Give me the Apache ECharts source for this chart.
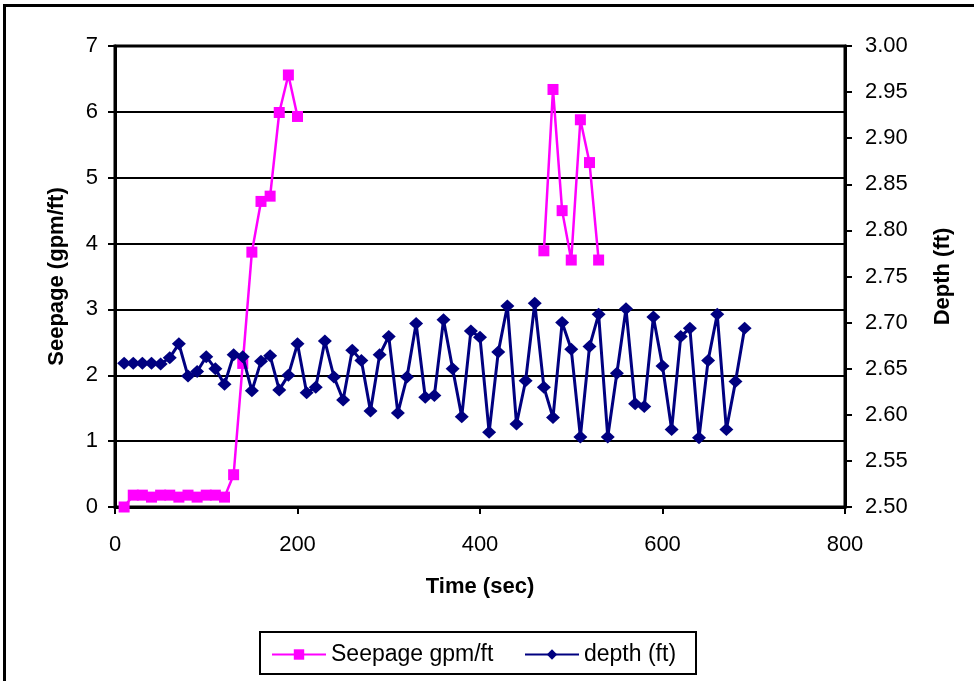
<!DOCTYPE html>
<html>
<head>
<meta charset="utf-8">
<script src="https://cdn.jsdelivr.net/npm/echarts@6/dist/echarts.min.js"></script>
<style>
html,body{margin:0;padding:0;background:#fff;}
#chart{width:974px;height:681px;}
</style>
</head>
<body>
<div id="chart"></div>
<script>
// ---- data ----
var times = [10,20,30,40,50,60,70,80,90,100,110,120,130,140,150,160,170,180,190,200,
  210,220,230,240,250,260,270,280,290,300,310,320,330,340,350,360,370,380,390,400,
  410,420,430,440,450,460,470,480,490,500,510,520,530,540,550,560,570,580,590,600,
  610,620,630,640,650,660,670,680,690];
var seepage = [0,0.18,0.18,0.15,0.18,0.18,0.15,0.18,0.15,0.18,0.18,0.15,0.49,2.18,3.87,4.64,4.72,5.99,6.56,5.93,
  null,null,null,null,null,null,null,null,null,null,null,null,null,null,null,null,null,null,null,null,
  null,null,null,null,null,null,3.89,6.34,4.50,3.75,5.88,5.23,3.75,null,null,null,null,null,null,null,
  null,null,null,null,null,null,null,null,null];
var depth = [2.656,2.656,2.656,2.656,2.655,2.662,2.677,2.642,2.647,2.663,2.650,2.633,2.665,2.663,2.626,2.658,2.664,2.627,2.643,2.677,
  2.624,2.630,2.680,2.641,2.616,2.670,2.659,2.604,2.665,2.685,2.602,2.641,2.699,2.619,2.621,2.703,2.650,2.598,2.691,2.684,
  2.581,2.668,2.718,2.590,2.637,2.721,2.630,2.597,2.700,2.671,2.576,2.674,2.709,2.576,2.645,2.715,2.612,2.609,2.706,2.653,
  2.584,2.685,2.694,2.575,2.659,2.709,2.584,2.636,2.694];
var xTicks = [0,200,400,600,800];
var seepTicks = [0,1,2,3,4,5,6,7];
var depthTicks = ['2.50','2.55','2.60','2.65','2.70','2.75','2.80','2.85','2.90','2.95','3.00'];
var seriesNames = ['Seepage gpm/ft','depth (ft)'];

// ---- build ----
function pairs(xs, ys){
  var out = [];
  for (var i = 0; i < xs.length; i++) out.push([xs[i], ys[i] === null ? '-' : ys[i]]);
  return out;
}
var FONT = 'Liberation Sans';
var chart = echarts.init(document.getElementById('chart'), null, {renderer:'canvas'});
var dMin = parseFloat(depthTicks[0]), dMax = parseFloat(depthTicks[depthTicks.length-1]);
var option = {
  animation:false,
  backgroundColor:'#fff',
  textStyle:{fontFamily:FONT,color:'#000'},
  grid:{left:115,right:129,top:46,bottom:174,show:true,borderColor:'#000',borderWidth:3,backgroundColor:'transparent'},
  legend:[
    {data:[seriesNames[0]],left:271,top:643,padding:0,itemWidth:54,itemHeight:13,itemGap:0,
     textStyle:{fontFamily:FONT,fontSize:23,color:'#000'}},
    {data:[seriesNames[1]],left:524,top:643,padding:0,itemWidth:54,itemHeight:13,itemGap:0,
     textStyle:{fontFamily:FONT,fontSize:23,color:'#000'}}
  ],
  graphic:[
    {type:'rect',shape:{x:4.5,y:5.5,width:1000,height:700},style:{fill:'none',stroke:'#000',lineWidth:3},silent:true},
    {type:'rect',shape:{x:260,y:632,width:436,height:42},style:{fill:'none',stroke:'#000',lineWidth:2},silent:true}
  ],
  xAxis:{
    type:'value',min:xTicks[0],max:xTicks[xTicks.length-1],interval:xTicks[1]-xTicks[0],
    name:'Time (sec)',nameLocation:'middle',nameGap:69,
    nameTextStyle:{fontFamily:FONT,fontSize:22,fontWeight:'bold',color:'#000'},
    axisLine:{lineStyle:{color:'#000',width:3}},
    axisTick:{show:true,length:7,lineStyle:{color:'#000',width:2}},
    axisLabel:{fontFamily:FONT,fontSize:22,color:'#000',margin:27},
    splitLine:{show:false}
  },
  yAxis:[
    {type:'value',min:seepTicks[0],max:seepTicks[seepTicks.length-1],interval:seepTicks[1]-seepTicks[0],
     name:'Seepage (gpm/ft)',nameLocation:'middle',nameGap:47,nameRotate:90,
     nameTextStyle:{fontFamily:FONT,fontSize:22,fontWeight:'bold',color:'#000'},
     axisLine:{show:true,lineStyle:{color:'#000',width:3}},
     axisTick:{show:true,length:7,lineStyle:{color:'#000',width:2}},
     axisLabel:{fontFamily:FONT,fontSize:22,color:'#000',margin:17},
     splitLine:{show:true,lineStyle:{color:'#000',width:2}}
    },
    {type:'value',position:'right',min:dMin,max:dMax,interval:0.05,
     name:'Depth (ft)',nameLocation:'middle',nameGap:87,nameRotate:90,
     nameTextStyle:{fontFamily:FONT,fontSize:22,fontWeight:'bold',color:'#000'},
     axisLine:{show:true,lineStyle:{color:'#000',width:3}},
     axisTick:{show:true,length:7,lineStyle:{color:'#000',width:2}},
     axisLabel:{fontFamily:FONT,fontSize:22,color:'#000',margin:20,
       formatter:function(v){var i=Math.round((v-dMin)/0.05);return depthTicks[i]!==undefined?depthTicks[i]:v.toFixed(2);}},
     splitLine:{show:false}
    }
  ],
  series:[
    {name:seriesNames[0],type:'line',yAxisIndex:0,data:pairs(times,seepage),connectNulls:false,
     symbol:'rect',symbolSize:11,itemStyle:{color:'#FF00FF'},lineStyle:{color:'#FF00FF',width:2.5},z:3},
    {name:seriesNames[1],type:'line',yAxisIndex:1,data:pairs(times,depth),
     symbol:'diamond',symbolSize:[14,13],itemStyle:{color:'#000080'},lineStyle:{color:'#000080',width:3},z:4}
  ]
};
chart.setOption(option);
</script>
</body>
</html>
